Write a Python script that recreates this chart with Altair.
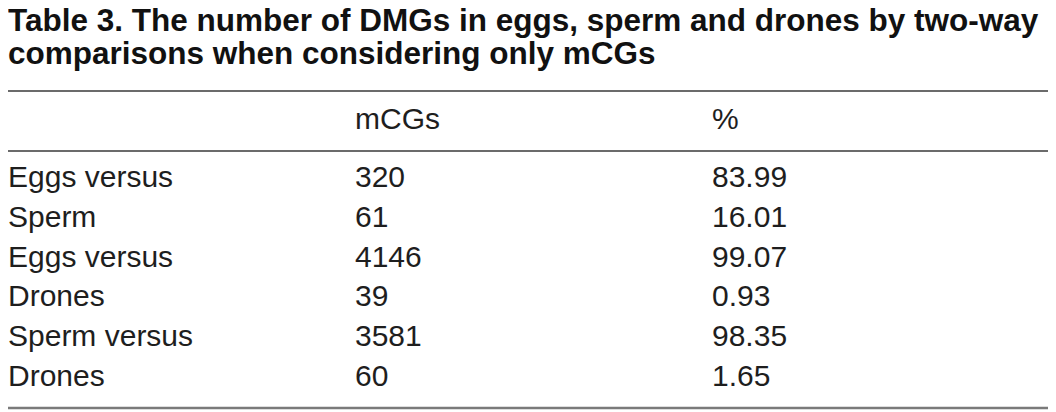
import altair as alt
import pandas as pd

# ---- data ----
title_lines = [
    "Table 3. The number of DMGs in eggs, sperm and drones by two-way",
    "comparisons when considering only mCGs",
]
col_headers = ["", "mCGs", "%"]
row_labels = ["Eggs versus", "Sperm", "Eggs versus", "Drones", "Sperm versus", "Drones"]
mcgs_values = [320, 61, 4146, 39, 3581, 60]
pct_values = ["83.99", "16.01", "99.07", "0.93", "98.35", "1.65"]

# ---- layout ----
W, H = 1040, 403
FONT = "Liberation Sans, Arial, Helvetica, sans-serif"
TXT = "#1e1e1e"
BODY_SIZE = 30
COL_X = [0, 347, 704]

body = pd.DataFrame({
    "row": list(range(len(row_labels))),
    "label": row_labels,
    "mcgs": [str(v) for v in mcgs_values],
    "pct": pct_values,
})
titles = pd.DataFrame({"line": [0, 1], "text": title_lines})
one = pd.DataFrame({"k": [0]})

yscale = alt.Scale(domain=[0, len(row_labels) - 1], range=[179, 378])


def body_col(field, xpos):
    return alt.Chart(body).mark_text(
        align="left", baseline="alphabetic", font=FONT, fontSize=BODY_SIZE, color=TXT
    ).encode(
        x=alt.value(xpos),
        y=alt.Y("row:Q", scale=yscale, axis=None),
        text=alt.Text(f"{field}:N"),
    )


title_layer = alt.Chart(titles).mark_text(
    align="left", baseline="alphabetic", font=FONT, fontSize=31.5, fontWeight="bold", color="#111111"
).encode(
    x=alt.value(0),
    y=alt.Y("line:Q", scale=alt.Scale(domain=[0, 1], range=[23, 56]), axis=None),
    text="text:N",
)

header_layers = [
    alt.Chart(one).mark_text(
        align="left", baseline="alphabetic", font=FONT, fontSize=BODY_SIZE, color=TXT, text=h
    ).encode(x=alt.value(COL_X[i]), y=alt.value(121))
    for i, h in enumerate(col_headers) if h
]


def rule(ypos, color, width):
    return alt.Chart(one).mark_rule(color=color, strokeWidth=width).encode(
        x=alt.value(0), x2=alt.value(W), y=alt.value(ypos)
    )


rules = [rule(83, "#3a3a3a", 1.5), rule(143, "#3a3a3a", 1.5), rule(400, "#7a7a7a", 2.6)]

chart = alt.layer(
    title_layer,
    *header_layers,
    body_col("label", COL_X[0]),
    body_col("mcgs", COL_X[1]),
    body_col("pct", COL_X[2]),
    *rules,
).resolve_scale(y="independent", x="independent").properties(
    width=W, height=H, padding=0, autosize=alt.AutoSizeParams(type="none")
).configure(
    background="white", view=alt.ViewConfig(strokeWidth=0, stroke="transparent")
)

chart.save("out.html", embed_options={"renderer": "svg", "actions": False})
